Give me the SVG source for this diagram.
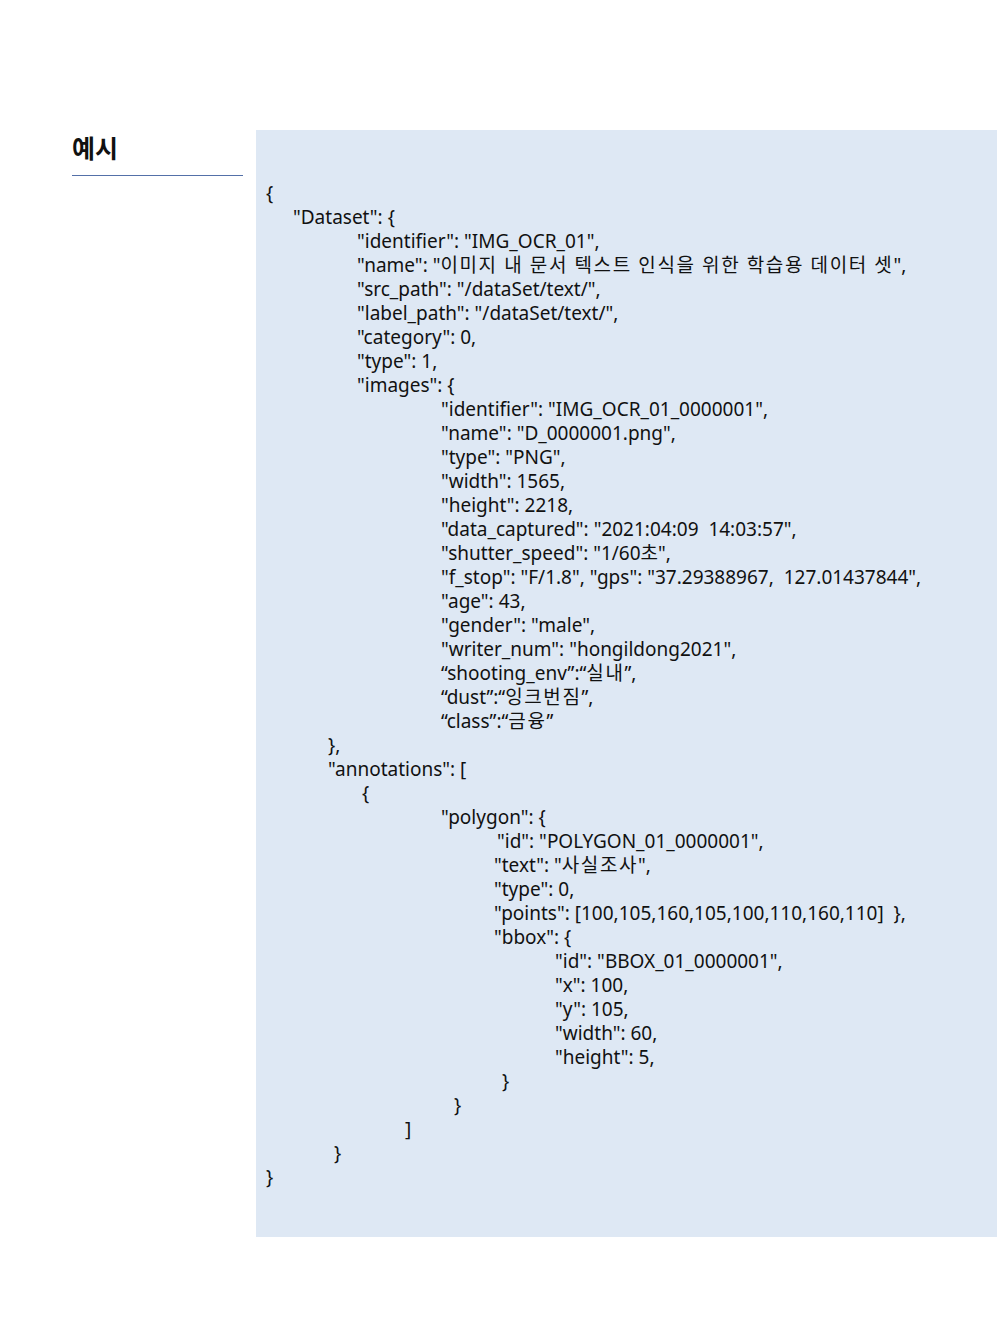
<svg xmlns="http://www.w3.org/2000/svg" width="1008" height="1344" viewBox="0 0 1008 1344">
<style>
.t{font-family:"Noto Sans","Noto Sans CJK KR",sans-serif;font-size:19px;fill:#111}
.k{letter-spacing:1.6px}
.h{font-family:"Noto Sans CJK KR",sans-serif;font-size:25px;font-weight:bold;fill:#111}
</style>
<rect width="1008" height="1344" fill="#fff"/>
<g id="heading">
<text class="h" x="72" y="158">예시</text>
<line x1="72" y1="175.5" x2="243" y2="175.5" stroke="#5470a8" stroke-width="1"/>
</g>
<g id="code">
<rect x="256" y="130" width="741" height="1107" fill="#dee8f4"/>
<g>
<text class="t" x="266" y="200">{</text>
<text class="t" x="293" y="224">"Dataset": {</text>
<text class="t" x="357" y="248">"identifier": "IMG_OCR_01",</text>
<text class="t" x="357" y="272">"name": "<tspan class="k">이미지 내 문서 텍스트 인식을 위한 학습용 데이터 셋</tspan>",</text>
<text class="t" x="357" y="296">"src_path": "/dataSet/text/",</text>
<text class="t" x="357" y="320">"label_path": "/dataSet/text/",</text>
<text class="t" x="357" y="344">"category": 0,</text>
<text class="t" x="357" y="368">"type": 1,</text>
<text class="t" x="357" y="392">"images": {</text>
<text class="t" x="441" y="416">"identifier": "IMG_OCR_01_0000001",</text>
<text class="t" x="441" y="440">"name": "D_0000001.png",</text>
<text class="t" x="441" y="464">"type": "PNG",</text>
<text class="t" x="441" y="488">"width": 1565,</text>
<text class="t" x="441" y="512">"height": 2218,</text>
<text class="t" x="441" y="536">"data_captured": "2021:04:09&#160; 14:03:57",</text>
<text class="t" x="441" y="560">"shutter_speed": "1/60초",</text>
<text class="t" x="441" y="584">"f_stop": "F/1.8", "gps": "37.29388967,&#160; 127.01437844",</text>
<text class="t" x="441" y="608">"age": 43,</text>
<text class="t" x="441" y="632">"gender": "male",</text>
<text class="t" x="441" y="656">"writer_num": "hongildong2021",</text>
<text class="t" x="441" y="680">“shooting_env”:“<tspan class="k">실내</tspan>”,</text>
<text class="t" x="441" y="704">“dust”:“<tspan class="k">잉크번짐</tspan>”,</text>
<text class="t" x="441" y="728">“class”:“<tspan class="k">금융</tspan>”</text>
<text class="t" x="328" y="752">},</text>
<text class="t" x="328" y="776">"annotations": [</text>
<text class="t" x="362" y="800">{</text>
<text class="t" x="441" y="824">"polygon": {</text>
<text class="t" x="497" y="848">"id": "POLYGON_01_0000001",</text>
<text class="t" x="494" y="872">"text": "<tspan class="k">사실조사</tspan>",</text>
<text class="t" x="494" y="896">"type": 0,</text>
<text class="t" x="494" y="920">"points": [100,105,160,105,100,110,160,110]&#160; },</text>
<text class="t" x="494" y="944">"bbox": {</text>
<text class="t" x="555" y="968">"id": "BBOX_01_0000001",</text>
<text class="t" x="555" y="992">"x": 100,</text>
<text class="t" x="555" y="1016">"y": 105,</text>
<text class="t" x="555" y="1040">"width": 60,</text>
<text class="t" x="555" y="1064">"height": 5,</text>
<text class="t" x="502" y="1088">}</text>
<text class="t" x="454" y="1112">}</text>
<text class="t" x="405" y="1136">]</text>
<text class="t" x="334" y="1160">}</text>
<text class="t" x="266" y="1184">}</text>
</g>
</g>
</svg>
